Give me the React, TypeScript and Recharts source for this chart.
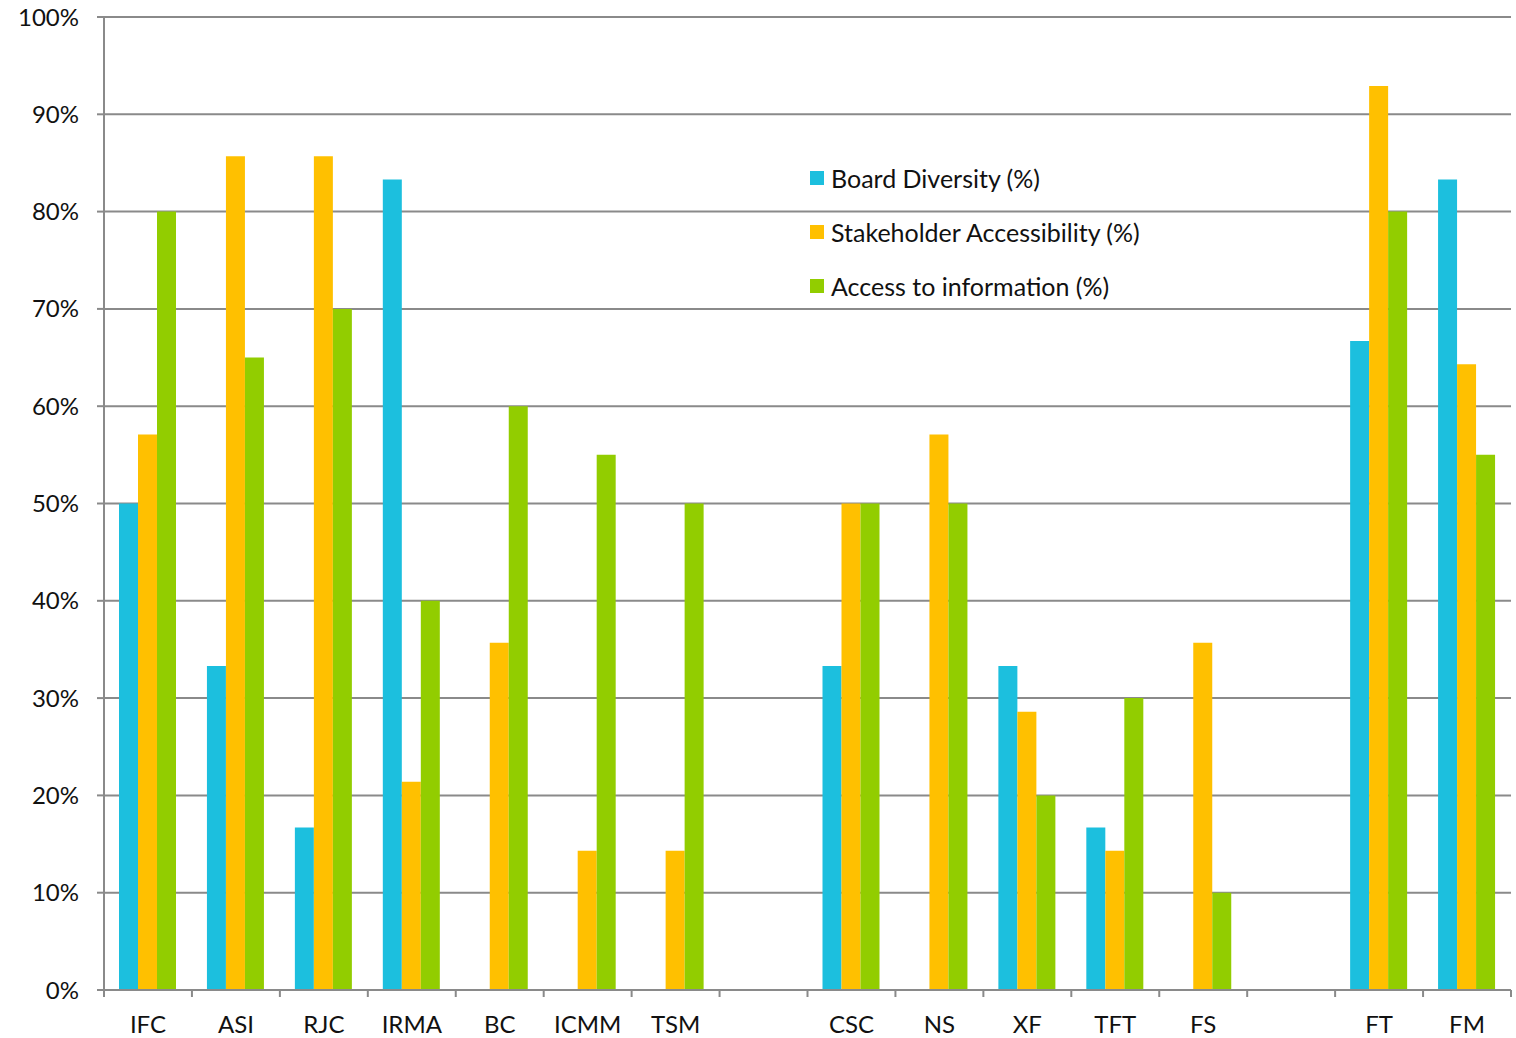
import React from "react"
import { BarChart, Bar, XAxis, YAxis, CartesianGrid } from "recharts"

const categories = ["IFC", "ASI", "RJC", "IRMA", "BC", "ICMM", "TSM", "", "CSC", "NS", "XF", "TFT", "FS", "", "FT", "FM"]
const boardDiversity = [50, 33.3, 16.7, 83.3, 0, 0, 0, 0, 33.3, 0, 33.3, 16.7, 0, 0, 66.7, 83.3]
const stakeholderAccessibility = [57.1, 85.7, 85.7, 21.4, 35.7, 14.3, 14.3, 0, 50, 57.1, 28.6, 14.3, 35.7, 0, 92.9, 64.3]
const accessToInformation = [80, 65, 70, 40, 60, 55, 50, 0, 50, 50, 20, 30, 10, 0, 80, 55]
const yTicks = [0, 10, 20, 30, 40, 50, 60, 70, 80, 90, 100]

const series = [
  { key: "board", name: "Board Diversity (%)", color: "#1cbfde" },
  { key: "stakeholder", name: "Stakeholder Accessibility (%)", color: "#ffc000" },
  { key: "access", name: "Access to information (%)", color: "#92cd00" },
]

const data = categories.map((name, i) => ({
  name,
  board: boardDiversity[i],
  stakeholder: stakeholderAccessibility[i],
  access: accessToInformation[i],
}))

const W = 1516
const H = 1038
const margin = { top: 17, right: 5, left: 0, bottom: 0 }
const yAxisWidth = 104
const band = (W - margin.left - margin.right - yAxisWidth) / categories.length
const grey = "#8a8a8a"
const font = "Lato, 'Open Sans', sans-serif"

const CategoryTick = (props: any) => {
  const { x, y, payload, index } = props
  const last = index === categories.length - 1
  return (
    <g>
      <line x1={x - band / 2} x2={x - band / 2} y1={y} y2={y + 7} stroke={grey} strokeWidth={2} />
      {last && <line x1={x + band / 2} x2={x + band / 2} y1={y} y2={y + 7} stroke={grey} strokeWidth={2} />}
      <text x={x} y={y + 43} textAnchor="middle" fontSize={24} fill="#111" fontFamily={font}>
        {payload.value}
      </text>
    </g>
  )
}

export default function App() {
  return (
    <div style={{ position: "absolute", left: 0, top: 0, width: W, height: H, background: "#fff" }}>
      <BarChart width={W} height={H} data={data} margin={margin} barGap={0} barCategoryGap={15}>
        <CartesianGrid vertical={false} stroke={grey} strokeWidth={2} />
        <XAxis
          dataKey="name"
          tick={<CategoryTick />}
          tickLine={false}
          tickSize={0}
          tickMargin={0}
          interval={0}
          height={48}
          axisLine={{ stroke: grey, strokeWidth: 2 }}
        />
        <YAxis
          domain={[0, 100]}
          ticks={yTicks}
          width={yAxisWidth}
          tickFormatter={(v: number) => `${v}%`}
          tickSize={7}
          tickMargin={18}
          tickLine={{ stroke: grey, strokeWidth: 2 }}
          axisLine={{ stroke: grey, strokeWidth: 2 }}
          tick={{ fontSize: 24, fill: "#111", fontFamily: font }}
          interval={0}
        />
        {series.map((s) => (
          <Bar key={s.key} dataKey={s.key} name={s.name} fill={s.color} isAnimationActive={false} />
        ))}
      </BarChart>
      <div style={{ position: "absolute", left: 810, top: 151, fontFamily: font, fontSize: 25, color: "#111" }}>
        {series.map((s) => (
          <div key={s.key} style={{ display: "flex", alignItems: "center", height: 54, whiteSpace: "nowrap" }}>
            <span style={{ width: 14, height: 14, background: s.color, marginRight: 7, display: "inline-block" }} />
            <span>{s.name}</span>
          </div>
        ))}
      </div>
    </div>
  )
}
